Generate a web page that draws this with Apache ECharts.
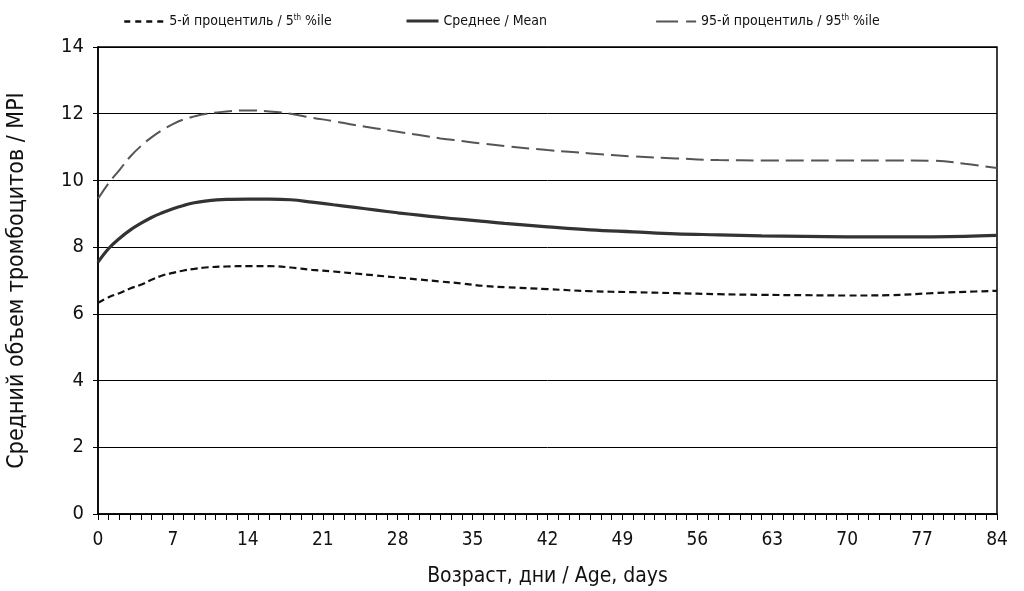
<!DOCTYPE html>
<html><head><meta charset="utf-8">
<script src="https://cdn.jsdelivr.net/npm/echarts@6/dist/echarts.min.js"></script>
<style>html,body{margin:0;padding:0;background:#fff}#c{width:1024px;height:591px}</style>
</head><body><div id="c"></div>
<script>
const days = [0,1,2,3,4,5,6,7,8,9,10,12,14,16,18,20,22,24,26,28,30,32,34,36,38,42,46,50,54,58,62,66,70,74,78,81,84];
const p95 = [9.45,9.92,10.31,10.71,11.03,11.29,11.51,11.69,11.83,11.92,11.99,12.07,12.10,12.07,12.0,11.88,11.78,11.66,11.56,11.46,11.36,11.26,11.18,11.10,11.03,10.91,10.81,10.72,10.66,10.61,10.60,10.60,10.60,10.60,10.59,10.50,10.37];
const mean = [7.55,7.96,8.26,8.51,8.71,8.89,9.03,9.15,9.25,9.33,9.38,9.43,9.44,9.44,9.42,9.35,9.27,9.19,9.11,9.03,8.96,8.89,8.83,8.77,8.71,8.61,8.52,8.46,8.40,8.37,8.34,8.32,8.31,8.31,8.31,8.32,8.35];
const p5 = [6.33,6.50,6.62,6.76,6.87,7.02,7.15,7.23,7.30,7.35,7.39,7.42,7.43,7.43,7.39,7.32,7.27,7.21,7.15,7.09,7.03,6.97,6.91,6.84,6.80,6.74,6.68,6.65,6.62,6.59,6.57,6.56,6.55,6.56,6.62,6.66,6.69];
const seriesNames = ['5-й процентиль / 5th %ile', 'Среднее / Mean', '95-й процентиль / 95th %ile'];
const legendLabels = ['5-й процентиль / 5{sup|th} %ile', 'Среднее / Mean', '95-й процентиль / 95{sup|th} %ile'];
const xTitle = 'Возраст, дни / Age, days';
const yTitle = 'Средний объем тромбоцитов / MPI';

const F = "'Liberation Sans Narrow','DejaVu Sans Condensed',sans-serif";
const FC = "'DejaVu Sans Condensed','Liberation Sans Narrow',sans-serif";
const pair = arr => days.map((d,i)=>[d,arr[i]]);
const legendText = {fontFamily:F,fontSize:14,color:'#111',rich:{sup:{fontFamily:F,fontSize:8,verticalAlign:'top',padding:[0,0,7,0],color:'#111'}}};
function lg(i,left,w,ls){
  return {show:true,top:9,left:left,data:[seriesNames[i]],itemWidth:w,itemHeight:12,itemGap:4,
    itemStyle:{opacity:0,borderWidth:0},lineStyle:ls,
    formatter:()=>legendLabels[i],textStyle:legendText};
}
const chart = echarts.init(document.getElementById('c'));
chart.setOption({
  animation:false,
  backgroundColor:'#fff',
  legend:[lg(0,118,40,{width:2.5,type:[6,5]}),lg(1,400,32,{width:3}),lg(2,650,40,{width:2.2,type:[22,8]})],
  grid:{left:98,right:27,top:47,bottom:77,show:true,borderColor:'#000',borderWidth:1.5,containLabel:false,outerBoundsMode:'none'},
  xAxis:{type:'value',min:0,max:84,interval:7,
    name:xTitle,nameLocation:'middle',nameGap:52,
    nameTextStyle:{fontFamily:FC,fontSize:21,color:'#111'},
    axisLine:{onZero:false,lineStyle:{color:'#000',width:1.5}},
    axisTick:{show:true,length:6,lineStyle:{color:'#000'}},
    minorTick:{show:true,splitNumber:7,length:6,lineStyle:{color:'#000'}},
    axisLabel:{fontFamily:F,fontSize:19,color:'#111',margin:17},
    splitLine:{show:false}},
  yAxis:{type:'value',min:0,max:14,interval:2,
    name:yTitle,nameLocation:'middle',nameGap:69,nameRotate:90,
    nameTextStyle:{fontFamily:FC,fontSize:23,color:'#111'},
    axisLine:{show:true,lineStyle:{color:'#000',width:1.5}},
    axisTick:{show:true,length:5,lineStyle:{color:'#000'}},
    axisLabel:{fontFamily:F,fontSize:20,color:'#111',margin:14},
    splitLine:{show:true,lineStyle:{color:'#000',width:1}}},
  series:[
    {name:seriesNames[0],type:'line',data:pair(p5),smooth:0.4,symbol:'none',
      lineStyle:{color:'#111',width:2.2,type:[7,4]},itemStyle:{color:'#111'}},
    {name:seriesNames[1],type:'line',data:pair(mean),smooth:0.4,symbol:'none',
      lineStyle:{color:'#333',width:3.2},itemStyle:{color:'#333'}},
    {name:seriesNames[2],type:'line',data:pair(p95),smooth:0.4,symbol:'none',
      lineStyle:{color:'#555',width:2,type:[18,7]},itemStyle:{color:'#555'}}
  ]
});
</script></body></html>
